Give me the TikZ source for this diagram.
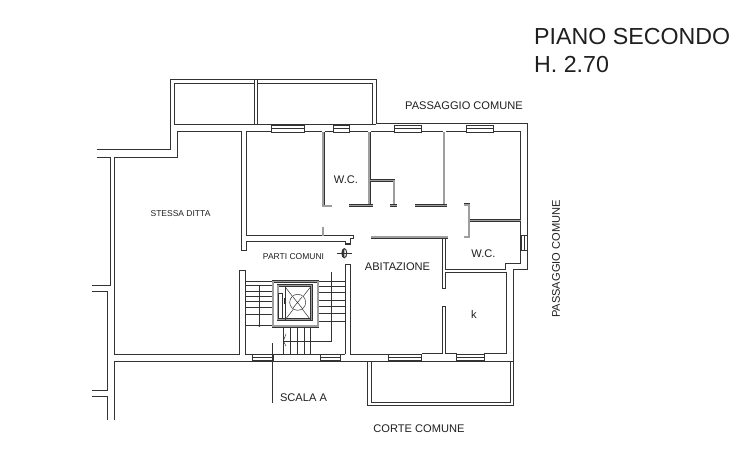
\documentclass[tikz,border=0pt]{standalone}
\usepackage{fontspec}
\setmainfont{Liberation Sans}
\usetikzlibrary{calc, positioning}
\definecolor{wallBlack}{gray}{0.2}
\definecolor{wallGray}{gray}{0.62}
\definecolor{textBlack}{gray}{0.12}
\tikzset{
    wall/.style={wallBlack, line width=1pt},
    thinLine/.style={wallBlack, line width=0.5pt},
    partition/.style={wallBlack, line width=0.45pt, double=wallGray, double distance=1.7pt},
    label/.style={text=textBlack, inner sep=0pt, font=\fontsize{11.1}{12}\selectfont},
    smallLabel/.style={text=textBlack, inner sep=0pt, font=\fontsize{8.5}{9}\selectfont},
    titleLabel/.style={text=textBlack, inner sep=0pt, anchor=base west, font=\fontsize{23.2}{26}\selectfont}
}
\begin{document}
\begin{tikzpicture}[x=1pt, y=-1pt]
    \useasboundingbox (0,0) rectangle (737,476);

    % outer walls
    \draw[wall] (96.7,150) -- (170.7,150) -- (170.7,80) -- (376,80) -- (376,124) -- (527.3,124) -- (527.3,269) -- (513,269) -- (513,405.7) -- (367.3,405.7) -- (367.3,361);
    \draw[wall] (96.7,157.3) -- (110.7,157.3) -- (110.7,285.7) -- (92,285.7);
    \draw[wall] (92,291) -- (107.7,291) -- (107.7,390.7) -- (92,390.7);
    \draw[wall] (92,396.7) -- (107.7,396.7) -- (107.7,420);
    \draw[wall] (114.3,420) -- (114.3,361) -- (513,361);
    \draw[wall] (371,361) -- (371,402.3) -- (510,402.3) -- (510,361);

    % upper balconies
    \draw[wall] (254.7,125) -- (254.7,83.3) -- (174.7,83.3) -- (174.7,125) -- (376,125);
    \draw[wall] (254.7,80) -- (254.7,83.3) (257.3,80) -- (257.3,125);
    \draw[wall] (257.3,83.3) -- (372,83.3) -- (372,125);

    % rooms
    \draw[wall] (241.5,132) -- (177.7,132) -- (177.7,157.3) -- (114.3,157.3) -- (114.3,354) -- (239.3,354) -- (239.3,270.7) -- (245.7,270.7) -- (245.7,354) -- (252.3,354);
    \draw[wall] (241.5,132) -- (241.5,250) -- (246,250) -- (246,241.5) -- (345,241.5) -- (345,244) -- (350.7,244) -- (350.7,239) -- (353.3,239) -- (353.3,236) -- (246,236) -- (246,132) -- (271.7,132);
    \draw[wall] (345,354) -- (345,264.3) -- (350.7,264.3) -- (350.7,354) -- (388.3,354);
    \draw[wall] (493.3,132) -- (520.7,132) -- (520.7,263) -- (505.7,263) -- (505.7,269.3) -- (445.3,269.3) -- (445.3,238);
    \draw[wall] (442.7,238) -- (442.7,288.3) -- (445.3,288.3) -- (445.3,272.7) -- (506.3,272.7) -- (506.3,353.6) -- (484,353.6);
    \draw[wall] (456.7,353.6) -- (445.3,353.6) -- (445.3,306.7) -- (442.7,306.7) -- (442.7,353.6) -- (421.7,353.6);
    \draw[wall] (273.3,354) -- (320,354) (340.7,354) -- (345,354);
    \foreach \xa/\xb in {304.3/321.7, 325/333.3, 349.3/367.7, 371/394.3, 421.3/443, 446/466.7} {
        \draw[wall] (\xa,132) -- (\xb,132);
    }

    % partitions
    \draw[partition] (323.2,132) -- (323.2,206) -- (331.5,206);
    \draw[partition] (322.8,236) -- (322.8,227.3);
    \draw[partition] (369.3,132) -- (369.3,205.5);
    \draw[partition] (349.3,205.5) -- (372.7,205.5);
    \draw[partition] (370.3,180.5) -- (393.8,180.5) -- (393.8,205.5);
    \draw[partition] (390,205.5) -- (397.3,205.5);
    \draw[partition] (443.8,132) -- (443.8,205.5);
    \draw[partition] (415,205.5) -- (446.7,205.5);
    \draw[partition] (464.3,204.8) -- (468.8,204.8) -- (468.8,237) -- (464.3,237);
    \draw[partition] (470,220.5) -- (520.7,220.5);
    \draw[partition] (371,237.3) -- (447.7,237.3);

    % windows
    \foreach \xa/\xb in {271.7/304.3, 333.3/349.3, 394.3/421.3, 466.7/493.3} {
        \draw[thinLine, fill=white] (\xa,125.5) rectangle (\xb,132);
        \draw[wall] (\xa,128.8) -- (\xb,128.8);
    }
    \foreach \xa/\xb in {252.3/273.3, 320/340.7, 388.3/421.7, 456.7/484} {
        \draw[thinLine, fill=white] (\xa,354) rectangle (\xb,360.5);
        \draw[wall] (\xa,357) -- (\xb,357);
    }
    \draw[thinLine, fill=white] (521,235) rectangle (527.3,250.7);
    \draw[wall] (524,235) -- (524,250.7);

    % stairs
    \foreach \y in {281,285.2,291,296,301.7,307.7,314.3,325.7} {
        \draw[thinLine] (245.7,\y) -- (272.3,\y);
    }
    \foreach \y in {281,286.7,292,300,306.7,313,321} {
        \draw[thinLine] (318.3,\y) -- (345,\y);
    }
    \foreach \x in {283.3,290,297.3,304,310.7} {
        \draw[thinLine] (\x,326.7) -- (\x,354);
    }
    \draw[thinLine] (259.3,285.2) -- (259.3,325.7);
    \fill[wallBlack] (259.3,325.7) circle (1.3pt);
    \draw[thinLine] (331,272.3) -- (331,341) -- (283.3,341);
    \draw[thinLine] (286,334) -- (283.3,341) -- (286,346);
    \draw[thinLine] (272.7,343) -- (272.7,403);

    % lift
    \draw[partition] (272.8,281.5) rectangle (317.8,326.2);
    \draw[partition] (277.8,285.5) rectangle (311.2,319.5);
    \draw[wall] (285,286.7) rectangle (310.7,320);
    \draw[thinLine] (285,286.7) -- (310.7,320) (310.7,286.7) -- (285,320);
    \draw[thinLine, fill=white] (297.7,302.3) circle (8pt);
    \draw[thinLine] (293,308) -- (302,297) (293,297) -- (302,308);
    \draw[partition] (290.7,285.5) -- (300.7,285.5);
    \draw[thinLine] (278.6,293.3) rectangle (282.3,318.3);
    \draw[thinLine] (284,298) -- (284,304);

    % door symbol
    \draw[wall] (344.3,253.2) ellipse (2.4pt and 4.6pt);
    \fill[wallBlack] (344.3,248.6) arc (90:270:2.4pt and 4.6pt) -- cycle;
    \draw[thinLine] (337.3,253.2) -- (351.7,253.2);

    % texts
    \node[titleLabel] (titlePiano) at (534,45) {PIANO SECONDO};
    \node[titleLabel] (titleHeight) at (534,73) {H. 2.70};
    \node[label] (passageTop) at (464,106) {PASSAGGIO COMUNE};
    \node[label, rotate=90] (passageRight) at (556,259) {PASSAGGIO COMUNE};
    \node[label] (courtLabel) at (419,429) {CORTE COMUNE};
    \node[label] (flatLabel) at (397.5,267) {ABITAZIONE};
    \node[label] (wcLeft) at (346,180) {W.C.};
    \node[label] (wcRight) at (483.5,254) {W.C.};
    \node[label] (kitchenLabel) at (474,314) {k};
    \node[label] (stairLabel) at (303.5,398) {SCALA A};
    \node[smallLabel] (sameOwner) at (180.5,214) {STESSA DITTA};
    \node[smallLabel] (commonParts) at (293.5,257) {PARTI COMUNI};
\end{tikzpicture}
\end{document}
